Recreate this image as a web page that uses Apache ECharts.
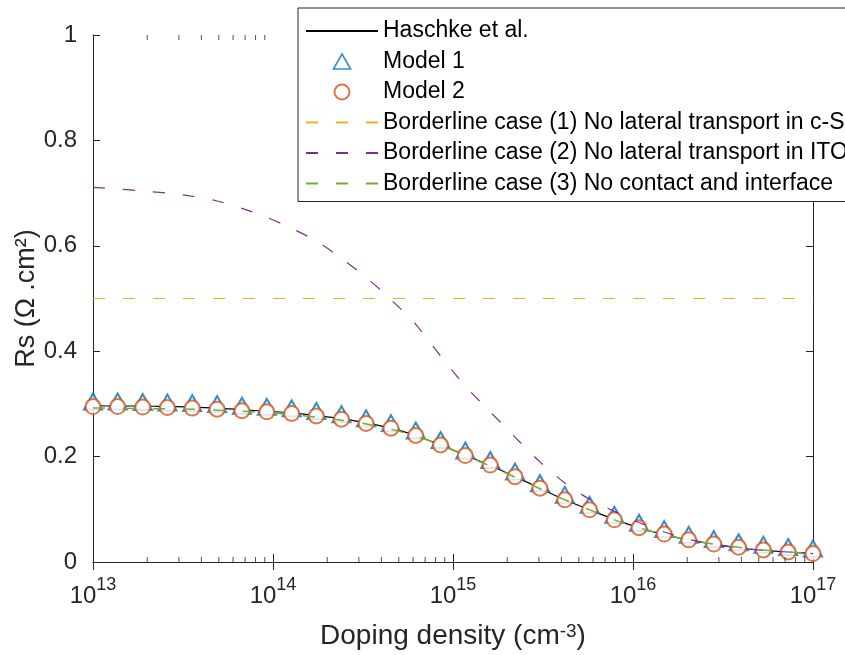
<!DOCTYPE html>
<html>
<head>
<meta charset="utf-8">
<script src="https://cdn.jsdelivr.net/npm/echarts@6/dist/echarts.min.js"></script>
<style>html,body{margin:0;padding:0;background:#fff;}#c{width:845px;height:655px;}</style>
</head>
<body>
<div id="c"></div>
<script>
// Doping density sample points (cm^-3)
var doping = [1.00e13, 1.37e13, 1.89e13, 2.59e13, 3.56e13, 4.89e13, 6.72e13, 9.24e13,
  1.27e14, 1.74e14, 2.40e14, 3.29e14, 4.52e14, 6.21e14, 8.53e14,
  1.17e15, 1.61e15, 2.21e15, 3.04e15, 4.18e15, 5.74e15, 7.88e15,
  1.08e16, 1.49e16, 2.04e16, 2.81e16, 3.86e16, 5.30e16, 7.28e16, 1.00e17];

var haschke = [0.297, 0.296, 0.296, 0.295, 0.294, 0.292, 0.289, 0.286, 0.283, 0.278,
  0.272, 0.264, 0.254, 0.240, 0.222, 0.203, 0.183, 0.162, 0.140, 0.118,
  0.099, 0.081, 0.065, 0.052, 0.042, 0.034, 0.027, 0.022, 0.019, 0.016];

var model1 = [0.295, 0.295, 0.294, 0.293, 0.292, 0.290, 0.287, 0.285, 0.282, 0.277,
  0.271, 0.263, 0.254, 0.240, 0.222, 0.202, 0.184, 0.162, 0.140, 0.118,
  0.099, 0.080, 0.065, 0.053, 0.042, 0.034, 0.028, 0.023, 0.019, 0.016];

var model2 = [0.295, 0.295, 0.294, 0.293, 0.292, 0.290, 0.287, 0.285, 0.282, 0.277,
  0.271, 0.263, 0.254, 0.240, 0.222, 0.202, 0.184, 0.162, 0.140, 0.118,
  0.099, 0.080, 0.065, 0.053, 0.042, 0.034, 0.028, 0.023, 0.019, 0.016];

var border1 = [0.5, 0.5, 0.5, 0.5, 0.5, 0.5, 0.5, 0.5, 0.5, 0.5,
  0.5, 0.5, 0.5, 0.5, 0.5, 0.5, 0.5, 0.5, 0.5, 0.5,
  0.5, 0.5, 0.5, 0.5, 0.5, 0.5, 0.5, 0.5, 0.5, 0.5];

var border2 = [0.711, 0.708, 0.704, 0.700, 0.694, 0.685, 0.671, 0.654, 0.633, 0.609,
  0.576, 0.540, 0.498, 0.451, 0.391, 0.334, 0.285, 0.237, 0.190, 0.150,
  0.119, 0.096, 0.075, 0.057, 0.043, 0.033, 0.027, 0.022, 0.019, 0.016];

var border3 = [0.292, 0.292, 0.291, 0.291, 0.290, 0.288, 0.286, 0.283, 0.280, 0.275,
  0.269, 0.262, 0.252, 0.239, 0.222, 0.202, 0.182, 0.161, 0.139, 0.118,
  0.099, 0.080, 0.065, 0.052, 0.042, 0.034, 0.028, 0.023, 0.019, 0.016];

var seriesNames = ['Haschke et al.', 'Model 1', 'Model 2',
  'Borderline case (1) No lateral transport in c-Si',
  'Borderline case (2) No lateral transport in ITO',
  'Borderline case (3) No contact and interface'];

var xTickExponents = [13, 14, 15, 16, 17];
var yTicks = [0, 0.2, 0.4, 0.6, 0.8, 1];

// minor tick positions (2..9 x 10^n)
var minorTicks = [];
for (var n = 13; n < 17; n++) {
  for (var k = 2; k <= 9; k++) minorTicks.push(k * Math.pow(10, n));
}

function pairs(ys) { return doping.map(function (x, i) { return [x, ys[i]]; }); }

var AX = '#262626';
var FONT = 'Liberation Sans';
var DASH = [12, 18];

var lineLegend = {opacity: 0};
var legendData = [
  {name: seriesNames[0], itemStyle: lineLegend},
  {name: seriesNames[1], icon: 'path://M8,0 L16,14 L0,14 Z',
    itemStyle: {color: '#fff', borderColor: '#0072BD', borderWidth: 1.6}},
  {name: seriesNames[2]},
  {name: seriesNames[3], itemStyle: lineLegend},
  {name: seriesNames[4], itemStyle: lineLegend},
  {name: seriesNames[5], itemStyle: lineLegend}
];

var chart = echarts.init(document.getElementById('c'), null, {renderer: 'canvas'});
var option = {
  animation: false,
  backgroundColor: '#fff',
  textStyle: {fontFamily: FONT},
  grid: {left: 93, right: 32, top: 35, bottom: 93, containLabel: false, outerBoundsMode: 'none'},
  legend: {
    orient: 'vertical',
    left: 298, top: 8, z: 30,
    data: legendData,
    symbolKeepAspect: true,
    backgroundColor: '#fff',
    borderColor: AX, borderWidth: 1, borderRadius: 0,
    padding: [11, 30, 6, 7],
    itemWidth: 72, itemHeight: 15, itemGap: 6.5,
    textStyle: {fontFamily: FONT, fontSize: 23, color: '#000', lineHeight: 24},
    selectedMode: false
  },
  xAxis: [{
    type: 'log', logBase: 10, min: 1e13, max: 1e17,
    name: 'Doping density (cm{s|-3})',
    nameLocation: 'middle', nameGap: 60,
    nameTextStyle: {fontFamily: FONT, fontSize: 28, color: AX,
      rich: {s: {fontSize: 19, verticalAlign: 'top', lineHeight: 18, fontFamily: FONT, color: AX}}},
    axisLine: {lineStyle: {color: AX, width: 1}},
    axisTick: {inside: true, length: 8, lineStyle: {color: AX}},
    splitLine: {show: false},
    axisLabel: {
      margin: 14,
      formatter: function (v) {
        var e = Math.round(Math.log10(v));
        return '{b|10}{s|' + e + '}';
      },
      rich: {
        b: {fontSize: 24, fontFamily: FONT, color: AX, lineHeight: 32, verticalAlign: 'bottom'},
        s: {fontSize: 18, fontFamily: FONT, color: AX, lineHeight: 18, verticalAlign: 'top'}
      }
    }
  }, {
    type: 'log', logBase: 10, min: 1e13, max: 1e17, position: 'top',
    axisLine: {lineStyle: {color: AX, width: 1}},
    axisTick: {inside: true, length: 8, lineStyle: {color: AX}},
    axisLabel: {show: false}, splitLine: {show: false}
  }],
  yAxis: [{
    type: 'value', min: 0, max: 1, interval: 0.2,
    name: 'Rs (Ω .cm²)',
    nameLocation: 'middle', nameGap: 53, nameMoveOverlap: false,
    nameTextStyle: {fontFamily: FONT, fontSize: 27, color: AX},
    axisLine: {show: true, lineStyle: {color: AX, width: 1}},
    axisTick: {show: true, inside: true, length: 7, lineStyle: {color: AX}},
    splitLine: {show: false},
    axisLabel: {margin: 16, fontSize: 24, fontFamily: FONT, color: AX}
  }, {
    type: 'value', min: 0, max: 1, interval: 0.2, position: 'right',
    axisLine: {show: true, lineStyle: {color: AX, width: 1}},
    axisTick: {show: true, inside: true, length: 7, lineStyle: {color: AX}},
    axisLabel: {show: false}, splitLine: {show: false}
  }],
  series: [
    {name: seriesNames[0], type: 'line', data: pairs(haschke), symbol: 'none', smooth: 0.3,
      lineStyle: {color: '#000', width: 1.2}, itemStyle: {color: '#000'}, z: 3},
    {name: seriesNames[1], type: 'scatter', data: pairs(model1), symbol: 'emptyTriangle',
      symbolSize: [18, 16], symbolOffset: [0, -5], clip: false,
      itemStyle: {color: '#0072BD', borderColor: '#0072BD', borderWidth: 1.6}, z: 4},
    {name: seriesNames[2], type: 'scatter', data: pairs(model2), symbol: 'emptyCircle',
      symbolSize: 15, clip: false,
      itemStyle: {color: '#D95319', borderColor: '#D95319', borderWidth: 2.2}, z: 5},
    {name: seriesNames[3], type: 'line', data: pairs(border1), symbol: 'none',
      lineStyle: {color: '#EDB120', width: 1.2, type: DASH}, itemStyle: {color: '#EDB120'}, z: 6},
    {name: seriesNames[4], type: 'line', data: pairs(border2), symbol: 'none', smooth: 0.3,
      lineStyle: {color: '#7E2F8E', width: 1.2, type: DASH}, itemStyle: {color: '#7E2F8E'}, z: 6},
    {name: seriesNames[5], type: 'line', data: pairs(border3), symbol: 'none', smooth: 0.3,
      lineStyle: {color: '#77AC30', width: 1.5, type: DASH}, itemStyle: {color: '#77AC30'}, z: 6},
    {name: 'minorBottom', type: 'scatter', silent: true, clip: false,
      data: minorTicks.map(function (v) { return [v, 0]; }),
      symbol: 'rect', symbolSize: [1, 5], symbolOffset: [0, -2.5],
      itemStyle: {color: AX}, z: 10},
    {name: 'minorTop', type: 'scatter', silent: true, clip: false,
      data: minorTicks.map(function (v) { return [v, 1]; }),
      symbol: 'rect', symbolSize: [1, 5], symbolOffset: [0, 2.5],
      itemStyle: {color: AX}, z: 10}
  ]
};
chart.setOption(option);
</script>
</body>
</html>
